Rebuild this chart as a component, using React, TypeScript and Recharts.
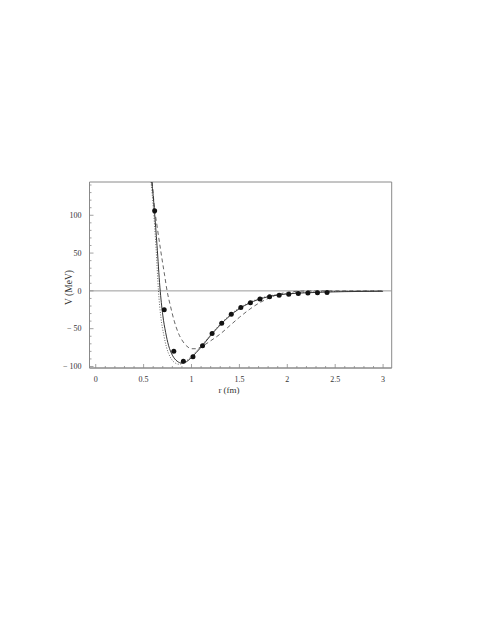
import React from "react";
import { ComposedChart, Line, Scatter, XAxis, YAxis, ReferenceLine, ReferenceArea, Label } from "recharts";

// r (fm), V (MeV)
const DOTS: [number, number][] = [
  [0.615, 106], [0.715, -25], [0.815, -80], [0.915, -93], [1.015, -87],
  [1.115, -72.5], [1.215, -56.5], [1.315, -42.7], [1.415, -31], [1.515, -22],
  [1.615, -15.8], [1.715, -10.8], [1.815, -7.9], [1.915, -5.7], [2.015, -4.4],
  [2.115, -3.5], [2.215, -2.7], [2.315, -2.5], [2.415, -2.2],
];

const SOLID: [number, number][] = [
  [0.585, 144], [0.6, 126], [0.612, 107], [0.64, 60], [0.67, 5], [0.7, -32],
  [0.73, -55], [0.76, -72], [0.8, -85], [0.85, -93], [0.9, -95.5], [0.95, -93.5],
  [1.0, -88], [1.05, -81.5], [1.1, -74.5], [1.2, -59], [1.3, -45], [1.4, -33],
  [1.5, -23.5], [1.6, -16.5], [1.7, -11.3], [1.8, -7.8], [1.9, -5.5], [2.0, -4],
  [2.2, -2.5], [2.4, -1.6], [2.6, -1], [2.8, -0.7], [3.0, -0.5],
];

const DOTTED: [number, number][] = [
  [0.578, 144], [0.6, 112], [0.63, 56], [0.655, 0], [0.68, -35], [0.71, -58],
  [0.74, -75], [0.78, -88], [0.82, -94.5], [0.87, -97], [0.92, -95], [0.97, -90],
  [1.0, -86.5], [1.05, -80], [1.1, -73], [1.2, -58], [1.3, -44], [1.4, -32],
  [1.5, -22.5], [1.6, -15.5], [1.7, -10.5], [1.8, -7], [1.9, -4.8], [2.0, -3.3],
  [2.2, -1.8], [2.4, -1], [2.6, -0.6], [2.8, -0.4], [3.0, -0.3],
];

const DASHED: [number, number][] = [
  [0.59, 144], [0.61, 114], [0.64, 86], [0.68, 52], [0.72, 20], [0.745, 0],
  [0.78, -20], [0.82, -40], [0.86, -55], [0.9, -65], [0.95, -73], [1.0, -76.5],
  [1.05, -76.5], [1.1, -74], [1.2, -66], [1.3, -57], [1.4, -46], [1.5, -35],
  [1.6, -25], [1.7, -16.5], [1.8, -10], [1.9, -4.8], [2.0, -1.8], [2.1, -0.6],
  [2.2, -0.1], [2.4, 0], [2.7, 0], [3.0, 0],
];

const X_MAJOR = [0, 0.5, 1, 1.5, 2, 2.5, 3];
const X_LABELS = ["0", "0.5", "1", "1.5", "2", "2.5", "3"];
const Y_MAJOR = [-100, -50, 0, 50, 100];
const Y_LABELS = ["\u2212 100", "\u2212 50", "0", "50", "100"];

const X_MINOR = Array.from({ length: 31 }, (_, i) => i / 10);
const Y_MINOR = Array.from({ length: 25 }, (_, i) => -100 + i * 10);

const X_DOMAIN: [number, number] = [-0.065, 3.09];
const Y_DOMAIN: [number, number] = [-102, 144];

const toObj = (arr: [number, number][]) => arr.map(([r, v]) => ({ r, v }));

const FRAME = "#8a8a8a";
const TEXT = "#333";
const FONT = "'Liberation Serif', 'Times New Roman', serif";

const near = (a: number, b: number) => Math.abs(a - b) < 1e-6;

const BottomTick = (props: any) => {
  const { x, y, payload } = props;
  const idx = X_MAJOR.findIndex((m) => near(m, payload.value));
  const major = idx >= 0;
  return (
    <g>
      <line x1={x} x2={x} y1={y} y2={y - (major ? 4 : 2)} stroke={FRAME} strokeWidth={0.8} />
      {major && (
        <text x={x} y={y + 14} textAnchor="middle" fontSize={8} fontFamily={FONT} fill={TEXT}>
          {X_LABELS[idx]}
        </text>
      )}
    </g>
  );
};

const TopTick = (props: any) => {
  const { x, y, payload } = props;
  const major = X_MAJOR.some((m) => near(m, payload.value));
  return <line x1={x} x2={x} y1={y} y2={y + (major ? 4 : 2)} stroke={FRAME} strokeWidth={0.8} />;
};

const LeftTick = (props: any) => {
  const { x, y, payload } = props;
  const idx = Y_MAJOR.findIndex((m) => near(m, payload.value));
  const major = idx >= 0;
  return (
    <g>
      <line x1={x} x2={x + (major ? 4 : 2)} y1={y} y2={y} stroke={FRAME} strokeWidth={0.8} />
      {major && (
        <text x={x - 8} y={y + 2.8} textAnchor="end" fontSize={8} fontFamily={FONT} fill={TEXT}>
          {Y_LABELS[idx]}
        </text>
      )}
    </g>
  );
};

const RightTick = (props: any) => {
  const { x, y, payload } = props;
  const major = Y_MAJOR.some((m) => near(m, payload.value));
  return <line x1={x} x2={x - (major ? 4 : 2)} y1={y} y2={y} stroke={FRAME} strokeWidth={0.8} />;
};

export default function App() {
  return (
    <div
      style={{
        position: "absolute",
        left: 0,
        top: 0,
        width: 479,
        height: 620,
        background: "#fff",
        opacity: 0.995,
        transform: "translateZ(0)",
      }}
    >
      <ComposedChart width={479} height={620} margin={{ top: 182, right: 87.3, bottom: 222, left: 29.5 }}>
        <XAxis
          xAxisId="b"
          type="number"
          dataKey="r"
          domain={X_DOMAIN}
          allowDataOverflow
          ticks={X_MINOR}
          interval={0}
          tickSize={0}
          tickMargin={0}
          tickLine={false}
          tick={<BottomTick />}
          axisLine={{ stroke: FRAME, strokeWidth: 1 }}
          height={30}
        >
          <Label
            content={() => (
              <text x={229} y={393} textAnchor="middle" fontSize={9} fontFamily={FONT} fill={TEXT}>
                r (fm)
              </text>
            )}
          />
        </XAxis>
        <XAxis
          xAxisId="t"
          orientation="top"
          type="number"
          dataKey="r"
          domain={X_DOMAIN}
          allowDataOverflow
          ticks={X_MINOR}
          interval={0}
          tickSize={0}
          tickMargin={0}
          tickLine={false}
          tick={<TopTick />}
          axisLine={{ stroke: FRAME, strokeWidth: 1 }}
          height={0}
        />
        <YAxis
          yAxisId="l"
          type="number"
          dataKey="v"
          domain={Y_DOMAIN}
          allowDataOverflow
          ticks={Y_MINOR}
          interval={0}
          tickSize={0}
          tickMargin={0}
          tickLine={false}
          tick={<LeftTick />}
          axisLine={{ stroke: FRAME, strokeWidth: 1 }}
          width={60}
        >
          <Label
            content={() => (
              <text
                x={72}
                y={287.5}
                transform="rotate(-90 72 287.5)"
                textAnchor="middle"
                fontSize={9.5}
                fontFamily={FONT}
                fill={TEXT}
              >
                V (MeV)
              </text>
            )}
          />
        </YAxis>
        <YAxis
          yAxisId="r"
          orientation="right"
          type="number"
          dataKey="v"
          domain={Y_DOMAIN}
          allowDataOverflow
          ticks={Y_MINOR}
          interval={0}
          tickSize={0}
          tickMargin={0}
          tickLine={false}
          tick={<RightTick />}
          axisLine={{ stroke: FRAME, strokeWidth: 1 }}
          width={0}
        />
        <ReferenceArea
          xAxisId="b"
          yAxisId="l"
          x1={X_DOMAIN[0]}
          x2={X_DOMAIN[1]}
          y1={Y_DOMAIN[0]}
          y2={Y_DOMAIN[1]}
          fill="none"
          stroke={FRAME}
          strokeWidth={1}
          ifOverflow="visible"
        />
        <ReferenceLine xAxisId="b" yAxisId="l" y={0} stroke="#9a9a9a" strokeWidth={1} />
        {/* invisible carrier so the top / right frame axes get a scale */}
        <Line
          xAxisId="t"
          yAxisId="r"
          data={toObj(SOLID)}
          dataKey="v"
          stroke="none"
          dot={false}
          activeDot={false}
          isAnimationActive={false}
        />
        <Line
          xAxisId="b"
          yAxisId="l"
          data={toObj(DOTTED)}
          dataKey="v"
          type="monotone"
          stroke="#555"
          strokeWidth={0.9}
          strokeDasharray="1 1.6"
          dot={false}
          isAnimationActive={false}
        />
        <Line
          xAxisId="b"
          yAxisId="l"
          data={toObj(DASHED)}
          dataKey="v"
          type="monotone"
          stroke="#555"
          strokeWidth={0.9}
          strokeDasharray="4 3"
          dot={false}
          isAnimationActive={false}
        />
        <Line
          xAxisId="b"
          yAxisId="l"
          data={toObj(SOLID)}
          dataKey="v"
          type="monotone"
          stroke="#333"
          strokeWidth={1}
          dot={false}
          isAnimationActive={false}
        />
        <Scatter
          xAxisId="b"
          yAxisId="l"
          data={toObj(DOTS)}
          dataKey="v"
          fill="#111"
          shape={(p: any) => <circle cx={p.cx} cy={p.cy} r={2.5} fill="#111" />}
          isAnimationActive={false}
        />
      </ComposedChart>
    </div>
  );
}
